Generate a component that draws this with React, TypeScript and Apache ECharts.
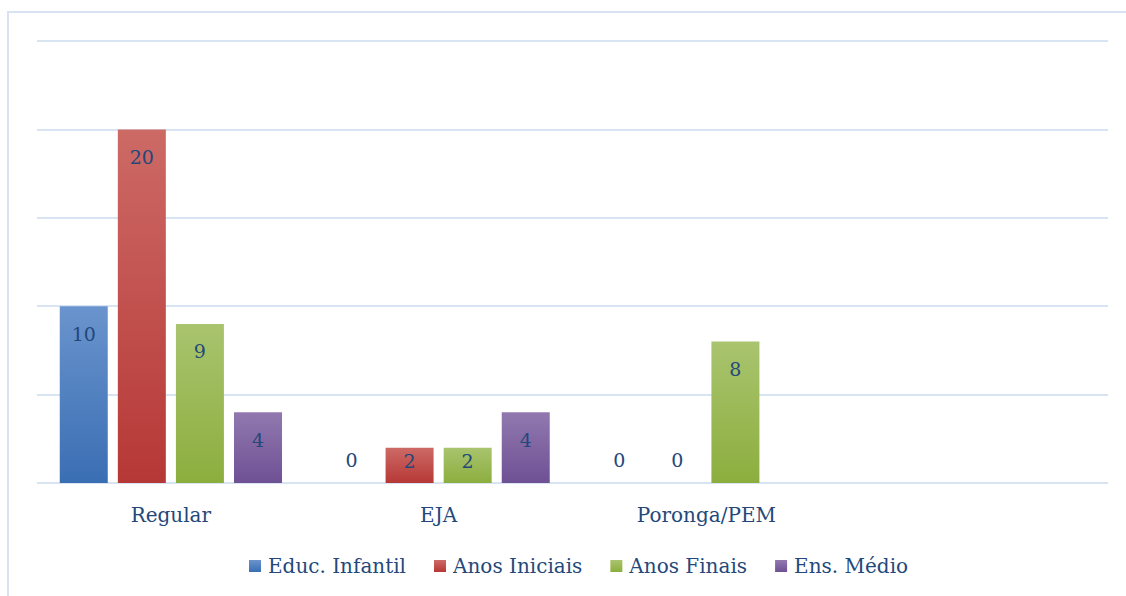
import React, { useEffect, useRef } from "react";
import * as echarts from "echarts";

const categories = ["Regular", "EJA", "Poronga/PEM", ""];
const seriesNames = ["Educ. Infantil", "Anos Iniciais", "Anos Finais", "Ens. Médio"];
const educInfantil = [10, 0, 0, null];
const anosIniciais = [20, 2, 0, null];
const anosFinais = [9, 2, 8, null];
const ensMedio = [4, 4, null, null];

const gradients = [
  ["#6a94cd", "#3a6eb3"],
  ["#cd6a66", "#b63836"],
  ["#a9c46e", "#8cae3e"],
  ["#9179af", "#6e5094"],
];

const TEXT = "#24487a";
const FONT = "'DejaVu Serif', serif";

function grad(c: string[]) {
  return new echarts.graphic.LinearGradient(0, 0, 0, 1, [
    { offset: 0, color: c[0] },
    { offset: 1, color: c[1] },
  ]);
}

function buildData(vals: (number | null)[]) {
  return vals.map((v) => {
    if (v === null) return null;
    let label: any;
    if (v === 0) label = { position: "top", distance: 14 };
    else if (v < 3) label = { position: "insideTop", distance: 4 };
    else label = { position: "insideTop", distance: 18 };
    return { value: v, label };
  });
}

export default function App() {
  const ref = useRef<HTMLDivElement>(null);
  useEffect(() => {
    document.body.style.margin = "0";
    const chart = echarts.init(ref.current!, null, { renderer: "svg" });
    const all = [educInfantil, anosIniciais, anosFinais, ensMedio];
    chart.setOption({
      animation: false,
      textStyle: { fontFamily: FONT },
      graphic: [
        {
          type: "rect",
          shape: { x: 8, y: 12, width: 1140, height: 600 },
          style: { fill: "none", stroke: "#d7e3f3", lineWidth: 2 },
          silent: true,
        },
      ],
      grid: { left: 37, right: 18, top: 41, bottom: 113 },
      legend: {
        bottom: 15,
        left: 244,
        itemWidth: 12,
        itemHeight: 12,
        itemGap: 28,
        icon: "rect",
        textStyle: { color: TEXT, fontSize: 20, fontFamily: FONT, padding: [0, 0, 0, 2] },
        data: seriesNames,
      },
      xAxis: {
        type: "category",
        data: categories,
        axisLine: { show: false },
        axisTick: { show: false },
        axisLabel: { color: TEXT, fontSize: 20, margin: 22, fontFamily: FONT },
      },
      yAxis: {
        type: "value",
        min: 0,
        max: 25,
        interval: 5,
        axisLabel: { show: false },
        axisLine: { show: false },
        axisTick: { show: false },
        splitLine: { lineStyle: { color: "#d9e4f3", width: 2 } },
      },
      series: all.map((vals, i) => ({
        name: seriesNames[i],
        type: "bar",
        data: buildData(vals),
        barWidth: 48,
        barGap: "21%",
        itemStyle: { color: grad(gradients[i]) },
        label: {
          show: true,
          color: TEXT,
          fontSize: 19,
          fontFamily: FONT,
        },
      })),
    });
    return () => chart.dispose();
  }, []);
  return <div ref={ref} style={{ width: 1126, height: 596 }} />;
}
